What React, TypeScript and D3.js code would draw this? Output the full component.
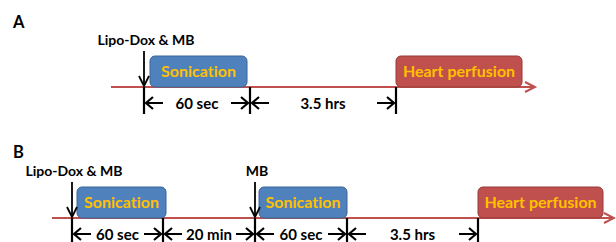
import { useEffect, useRef } from "react";
import * as d3 from "d3";

// schematic timeline positions (diagram units), one panel per row
const panelNames = ["A", "B"];
const axisStart = [111, 52];
const axisEnd = [535, 614];
const markersA = [144, 250, 396];
const markersB = [72, 163, 255, 347, 478];
const spansA = ["60 sec", "3.5 hrs"];
const spansB = ["60 sec", "20 min", "60 sec", "3.5 hrs"];
const injectA = [{ label: "Lipo-Dox & MB", at: 144 }];
const injectB = [
  { label: "Lipo-Dox & MB", at: 72 },
  { label: "MB", at: 255 },
];
const boxesA = [
  { label: "Sonication", start: 150, end: 247, kind: "son" },
  { label: "Heart perfusion", start: 396, end: 522, kind: "heart" },
];
const boxesB = [
  { label: "Sonication", start: 77, end: 166, kind: "son" },
  { label: "Sonication", start: 259, end: 347, kind: "son" },
  { label: "Heart perfusion", start: 478, end: 603, kind: "heart" },
];

const W = 616;
const H = 242;
const FONT = "Lato, 'Open Sans', sans-serif";

export default function App() {
  const ref = useRef<SVGSVGElement>(null);

  useEffect(() => {
    const svg = d3.select(ref.current);
    svg.selectAll("*").remove();

    const x = d3.scaleLinear().domain([0, W]).range([0, W]);

    const panels = [
      { markers: markersA, spans: spansA, inject: injectA, boxes: boxesA, axisY: 87, labelY: 28 },
      { markers: markersB, spans: spansB, inject: injectB, boxes: boxesB, axisY: 218, labelY: 158 },
    ];

    const fill: any = { son: "#4F81BD", heart: "#C0504D" };
    const edge: any = { son: "#3A6497", heart: "#943B39" };

    const txt = (g: any) =>
      g.append("text")
        .attr("font-family", FONT)
        .attr("font-weight", "bold")
        .style("font-variant-ligatures", "none")
        .style("font-feature-settings", "'liga' 0");

    panels.forEach((p, i) => {
      const g = svg.append("g");
      const y0 = p.axisY;

      txt(g)
        .attr("x", 13)
        .attr("y", p.labelY)
        .attr("font-size", 16.5)
        .text(panelNames[i]);

      // red timeline with arrow head
      const xe = x(axisEnd[i]);
      g.append("line")
        .attr("x1", x(axisStart[i]))
        .attr("x2", xe - 2)
        .attr("y1", y0)
        .attr("y2", y0)
        .attr("stroke", "#C0504D")
        .attr("stroke-width", 2.2);
      g.append("path")
        .attr("d", `M${xe - 10},${y0 - 5}L${xe},${y0}L${xe - 10},${y0 + 5}`)
        .attr("fill", "none")
        .attr("stroke", "#C0504D")
        .attr("stroke-width", 2);

      // boxes
      p.boxes.forEach((b) => {
        g.append("rect")
          .attr("x", x(b.start))
          .attr("y", y0 - 31)
          .attr("width", x(b.end) - x(b.start))
          .attr("height", 31)
          .attr("rx", 5)
          .attr("fill", fill[b.kind])
          .attr("stroke", edge[b.kind])
          .attr("stroke-width", 1);
        txt(g)
          .attr("x", (x(b.start) + x(b.end)) / 2)
          .attr("y", y0 - 10)
          .attr("text-anchor", "middle")
          .attr("font-size", 16)
          .attr("fill", "#FFC000")
          .text(b.label);
      });

      // injection arrows
      p.inject.forEach((d) => {
        const xi = x(d.at);
        txt(g)
          .attr("x", xi + 2)
          .attr("y", y0 - 42)
          .attr("text-anchor", "middle")
          .attr("font-size", 14)
          .text(d.label);
        g.append("line")
          .attr("x1", xi)
          .attr("x2", xi)
          .attr("y1", y0 - 36)
          .attr("y2", y0 - 1)
          .attr("stroke", "#000")
          .attr("stroke-width", 1.8);
        g.append("path")
          .attr("d", `M${xi - 5},${y0 - 11}L${xi},${y0 - 1}L${xi + 5},${y0 - 11}`)
          .attr("fill", "none")
          .attr("stroke", "#000")
          .attr("stroke-width", 1.8);
      });

      // duration markers
      const dy = y0 + 16;
      p.markers.forEach((m) => {
        g.append("line")
          .attr("x1", x(m))
          .attr("x2", x(m))
          .attr("y1", y0)
          .attr("y2", y0 + 27)
          .attr("stroke", "#000")
          .attr("stroke-width", 2.2);
      });
      p.spans.forEach((s, k) => {
        const a = x(p.markers[k]);
        const b = x(p.markers[k + 1]);
        const len = 17;
        g.append("path")
          .attr(
            "d",
            `M${a + 2},${dy}L${a + 2 + len},${dy}M${a + 9},${dy - 6}L${a + 2},${dy}L${a + 9},${dy + 6}` +
              `M${b - 2},${dy}L${b - 2 - len},${dy}M${b - 9},${dy - 6}L${b - 2},${dy}L${b - 9},${dy + 6}`
          )
          .attr("fill", "none")
          .attr("stroke", "#000")
          .attr("stroke-width", 2.2);
        txt(g)
          .attr("x", (a + b) / 2)
          .attr("y", dy + 6)
          .attr("text-anchor", "middle")
          .attr("font-size", 15)
          .text(s);
      });
    });
  }, []);

  return (
    <div style={{ position: "fixed", left: 0, top: 0 }}>
      <svg ref={ref} width={W} height={H} style={{ display: "block", background: "#fff" }} />
    </div>
  );
}
